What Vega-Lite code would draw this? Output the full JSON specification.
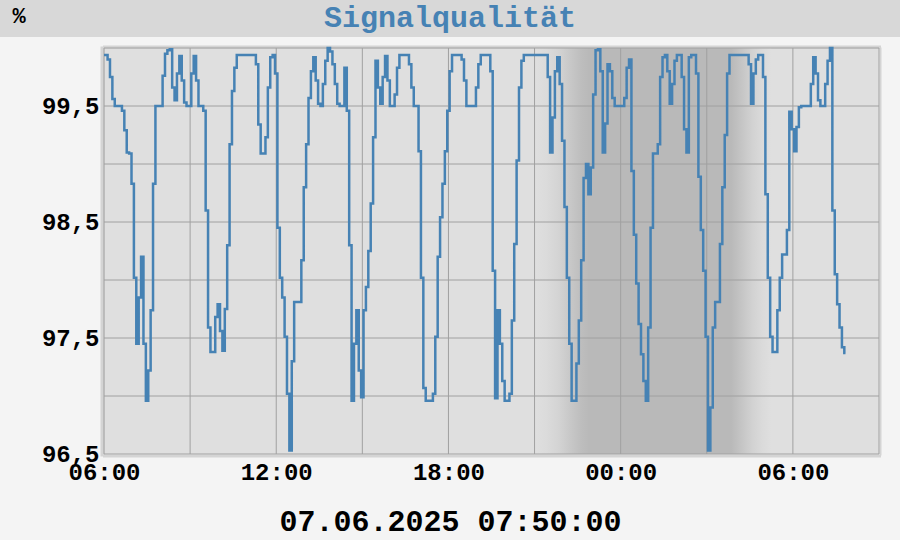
{
  "$schema": "https://vega.github.io/schema/vega-lite/v6.json",
  "background": "#f4f4f4",
  "padding": {"left": 0, "top": 0, "right": 0, "bottom": 6},
  "bounds": "flush",
  "spacing": 11,
  "config": {
    "font": "Liberation Mono",
    "view": {"stroke": null},
    "axis": {"labelFont": "Liberation Mono", "titleFont": "Liberation Mono", "labelColor": "#000000", "titleColor": "#000000"}
  },
  "datasets": {
    "title": [{"label": "Signalqualität"}],
    "night": [{"t": "2025-06-06T21:00", "t2": "2025-06-07T05:15"}],
    "xgrid": [
      {"t": "2025-06-06T06:00"}, {"t": "2025-06-06T09:00"}, {"t": "2025-06-06T12:00"}, {"t": "2025-06-06T15:00"}, {"t": "2025-06-06T18:00"},
      {"t": "2025-06-06T21:00"}, {"t": "2025-06-07T00:00"}, {"t": "2025-06-07T03:00"}, {"t": "2025-06-07T06:00"}, {"t": "2025-06-07T09:00"}
    ],
    "ygrid": [{"v": 96.5}, {"v": 97}, {"v": 97.5}, {"v": 98}, {"v": 98.5}, {"v": 99}, {"v": 99.5}, {"v": 100}],
    "series": [
      {"t":"2025-06-06T06:00","v":99.94},{"t":"2025-06-06T06:05","v":99.94},{"t":"2025-06-06T06:10","v":99.90},{"t":"2025-06-06T06:15","v":99.75},{"t":"2025-06-06T06:20","v":99.56},{"t":"2025-06-06T06:25","v":99.5},{"t":"2025-06-06T06:30","v":99.5},{"t":"2025-06-06T06:35","v":99.5},{"t":"2025-06-06T06:40","v":99.46},{"t":"2025-06-06T06:45","v":99.29},{"t":"2025-06-06T06:50","v":99.1},{"t":"2025-06-06T06:55","v":99.09},
      {"t":"2025-06-06T07:00","v":98.83},{"t":"2025-06-06T07:05","v":98.02},{"t":"2025-06-06T07:10","v":97.45},{"t":"2025-06-06T07:15","v":97.85},{"t":"2025-06-06T07:20","v":98.2},{"t":"2025-06-06T07:25","v":97.45},{"t":"2025-06-06T07:30","v":96.96},{"t":"2025-06-06T07:35","v":97.22},{"t":"2025-06-06T07:40","v":97.74},{"t":"2025-06-06T07:45","v":98.83},{"t":"2025-06-06T07:50","v":99.5},{"t":"2025-06-06T07:55","v":99.5},
      {"t":"2025-06-06T08:00","v":99.5},{"t":"2025-06-06T08:05","v":99.76},{"t":"2025-06-06T08:10","v":99.95},{"t":"2025-06-06T08:15","v":99.98},{"t":"2025-06-06T08:20","v":99.99},{"t":"2025-06-06T08:25","v":99.66},{"t":"2025-06-06T08:30","v":99.55},{"t":"2025-06-06T08:35","v":99.78},{"t":"2025-06-06T08:40","v":99.93},{"t":"2025-06-06T08:45","v":99.72},{"t":"2025-06-06T08:50","v":99.53},{"t":"2025-06-06T08:55","v":99.5},
      {"t":"2025-06-06T09:00","v":99.5},{"t":"2025-06-06T09:05","v":99.78},{"t":"2025-06-06T09:10","v":99.93},{"t":"2025-06-06T09:15","v":99.72},{"t":"2025-06-06T09:20","v":99.5},{"t":"2025-06-06T09:25","v":99.5},{"t":"2025-06-06T09:30","v":99.46},{"t":"2025-06-06T09:35","v":98.6},{"t":"2025-06-06T09:40","v":97.59},{"t":"2025-06-06T09:45","v":97.38},{"t":"2025-06-06T09:50","v":97.38},{"t":"2025-06-06T09:55","v":97.68},
      {"t":"2025-06-06T10:00","v":97.79},{"t":"2025-06-06T10:05","v":97.56},{"t":"2025-06-06T10:10","v":97.39},{"t":"2025-06-06T10:15","v":97.75},{"t":"2025-06-06T10:20","v":98.3},{"t":"2025-06-06T10:25","v":99.17},{"t":"2025-06-06T10:30","v":99.63},{"t":"2025-06-06T10:35","v":99.83},{"t":"2025-06-06T10:40","v":99.94},{"t":"2025-06-06T10:45","v":99.94},{"t":"2025-06-06T10:50","v":99.94},{"t":"2025-06-06T10:55","v":99.94},
      {"t":"2025-06-06T11:00","v":99.94},{"t":"2025-06-06T11:05","v":99.94},{"t":"2025-06-06T11:10","v":99.94},{"t":"2025-06-06T11:15","v":99.94},{"t":"2025-06-06T11:20","v":99.86},{"t":"2025-06-06T11:25","v":99.34},{"t":"2025-06-06T11:30","v":99.09},{"t":"2025-06-06T11:35","v":99.09},{"t":"2025-06-06T11:40","v":99.23},{"t":"2025-06-06T11:45","v":99.66},{"t":"2025-06-06T11:50","v":99.92},{"t":"2025-06-06T11:55","v":99.94},
      {"t":"2025-06-06T12:00","v":99.78},{"t":"2025-06-06T12:05","v":98.45},{"t":"2025-06-06T12:10","v":98.02},{"t":"2025-06-06T12:15","v":97.85},{"t":"2025-06-06T12:20","v":97.51},{"t":"2025-06-06T12:25","v":97.02},{"t":"2025-06-06T12:30","v":96.53},{"t":"2025-06-06T12:35","v":97.3},{"t":"2025-06-06T12:40","v":97.81},{"t":"2025-06-06T12:45","v":97.81},{"t":"2025-06-06T12:50","v":97.81},{"t":"2025-06-06T12:55","v":98.17},
      {"t":"2025-06-06T13:00","v":98.8},{"t":"2025-06-06T13:05","v":99.17},{"t":"2025-06-06T13:10","v":99.57},{"t":"2025-06-06T13:15","v":99.8},{"t":"2025-06-06T13:20","v":99.92},{"t":"2025-06-06T13:25","v":99.72},{"t":"2025-06-06T13:30","v":99.52},{"t":"2025-06-06T13:35","v":99.5},{"t":"2025-06-06T13:40","v":99.69},{"t":"2025-06-06T13:45","v":99.89},{"t":"2025-06-06T13:50","v":100.0},{"t":"2025-06-06T13:55","v":99.97},
      {"t":"2025-06-06T14:00","v":99.86},{"t":"2025-06-06T14:05","v":99.69},{"t":"2025-06-06T14:10","v":99.52},{"t":"2025-06-06T14:15","v":99.5},{"t":"2025-06-06T14:20","v":99.5},{"t":"2025-06-06T14:25","v":99.83},{"t":"2025-06-06T14:30","v":99.46},{"t":"2025-06-06T14:35","v":98.3},{"t":"2025-06-06T14:40","v":96.96},{"t":"2025-06-06T14:45","v":97.45},{"t":"2025-06-06T14:50","v":97.74},{"t":"2025-06-06T14:55","v":97.22},
      {"t":"2025-06-06T15:00","v":96.99},{"t":"2025-06-06T15:05","v":97.74},{"t":"2025-06-06T15:10","v":97.94},{"t":"2025-06-06T15:15","v":98.25},{"t":"2025-06-06T15:20","v":98.66},{"t":"2025-06-06T15:25","v":99.23},{"t":"2025-06-06T15:30","v":99.89},{"t":"2025-06-06T15:35","v":99.66},{"t":"2025-06-06T15:40","v":99.52},{"t":"2025-06-06T15:45","v":99.75},{"t":"2025-06-06T15:50","v":99.93},{"t":"2025-06-06T15:55","v":99.72},
      {"t":"2025-06-06T16:00","v":99.5},{"t":"2025-06-06T16:05","v":99.5},{"t":"2025-06-06T16:10","v":99.6},{"t":"2025-06-06T16:15","v":99.83},{"t":"2025-06-06T16:20","v":99.94},{"t":"2025-06-06T16:25","v":99.94},{"t":"2025-06-06T16:30","v":99.94},{"t":"2025-06-06T16:35","v":99.94},{"t":"2025-06-06T16:40","v":99.86},{"t":"2025-06-06T16:45","v":99.66},{"t":"2025-06-06T16:50","v":99.5},{"t":"2025-06-06T16:55","v":99.5},
      {"t":"2025-06-06T17:00","v":99.11},{"t":"2025-06-06T17:05","v":98.02},{"t":"2025-06-06T17:10","v":97.07},{"t":"2025-06-06T17:15","v":96.96},{"t":"2025-06-06T17:20","v":96.96},{"t":"2025-06-06T17:25","v":96.96},{"t":"2025-06-06T17:30","v":97.02},{"t":"2025-06-06T17:35","v":97.51},{"t":"2025-06-06T17:40","v":98.2},{"t":"2025-06-06T17:45","v":98.54},{"t":"2025-06-06T17:50","v":98.83},{"t":"2025-06-06T17:55","v":99.11},
      {"t":"2025-06-06T18:00","v":99.46},{"t":"2025-06-06T18:05","v":99.8},{"t":"2025-06-06T18:10","v":99.94},{"t":"2025-06-06T18:15","v":99.94},{"t":"2025-06-06T18:20","v":99.94},{"t":"2025-06-06T18:25","v":99.94},{"t":"2025-06-06T18:30","v":99.9},{"t":"2025-06-06T18:35","v":99.72},{"t":"2025-06-06T18:40","v":99.5},{"t":"2025-06-06T18:45","v":99.5},{"t":"2025-06-06T18:50","v":99.5},{"t":"2025-06-06T18:55","v":99.5},
      {"t":"2025-06-06T19:00","v":99.66},{"t":"2025-06-06T19:05","v":99.86},{"t":"2025-06-06T19:10","v":99.94},{"t":"2025-06-06T19:15","v":99.94},{"t":"2025-06-06T19:20","v":99.94},{"t":"2025-06-06T19:25","v":99.94},{"t":"2025-06-06T19:30","v":99.8},{"t":"2025-06-06T19:35","v":98.08},{"t":"2025-06-06T19:40","v":96.98},{"t":"2025-06-06T19:45","v":97.74},{"t":"2025-06-06T19:50","v":97.45},{"t":"2025-06-06T19:55","v":97.13},
      {"t":"2025-06-06T20:00","v":96.96},{"t":"2025-06-06T20:05","v":96.96},{"t":"2025-06-06T20:10","v":97.02},{"t":"2025-06-06T20:15","v":97.65},{"t":"2025-06-06T20:20","v":98.31},{"t":"2025-06-06T20:25","v":99.03},{"t":"2025-06-06T20:30","v":99.66},{"t":"2025-06-06T20:35","v":99.89},{"t":"2025-06-06T20:40","v":99.94},{"t":"2025-06-06T20:45","v":99.94},{"t":"2025-06-06T20:50","v":99.94},{"t":"2025-06-06T20:55","v":99.94},
      {"t":"2025-06-06T21:00","v":99.94},{"t":"2025-06-06T21:05","v":99.94},{"t":"2025-06-06T21:10","v":99.94},{"t":"2025-06-06T21:15","v":99.94},{"t":"2025-06-06T21:20","v":99.94},{"t":"2025-06-06T21:25","v":99.94},{"t":"2025-06-06T21:30","v":99.75},{"t":"2025-06-06T21:35","v":99.1},{"t":"2025-06-06T21:40","v":99.4},{"t":"2025-06-06T21:45","v":99.8},{"t":"2025-06-06T21:50","v":99.92},{"t":"2025-06-06T21:55","v":99.69},
      {"t":"2025-06-06T22:00","v":99.2},{"t":"2025-06-06T22:05","v":98.63},{"t":"2025-06-06T22:10","v":98.02},{"t":"2025-06-06T22:15","v":97.45},{"t":"2025-06-06T22:20","v":96.96},{"t":"2025-06-06T22:25","v":96.96},{"t":"2025-06-06T22:30","v":97.28},{"t":"2025-06-06T22:35","v":97.65},{"t":"2025-06-06T22:40","v":98.17},{"t":"2025-06-06T22:45","v":98.88},{"t":"2025-06-06T22:50","v":99.0},{"t":"2025-06-06T22:55","v":98.74},
      {"t":"2025-06-06T23:00","v":98.97},{"t":"2025-06-06T23:05","v":99.6},{"t":"2025-06-06T23:10","v":99.98},{"t":"2025-06-06T23:15","v":99.99},{"t":"2025-06-06T23:20","v":99.8},{"t":"2025-06-06T23:25","v":99.1},{"t":"2025-06-06T23:30","v":99.35},{"t":"2025-06-06T23:35","v":99.86},{"t":"2025-06-06T23:40","v":99.8},{"t":"2025-06-06T23:45","v":99.57},{"t":"2025-06-06T23:50","v":99.5},{"t":"2025-06-06T23:55","v":99.5},
      {"t":"2025-06-07T00:00","v":99.5},{"t":"2025-06-07T00:05","v":99.5},{"t":"2025-06-07T00:10","v":99.57},{"t":"2025-06-07T00:15","v":99.83},{"t":"2025-06-07T00:20","v":99.9},{"t":"2025-06-07T00:25","v":98.94},{"t":"2025-06-07T00:30","v":98.39},{"t":"2025-06-07T00:35","v":97.97},{"t":"2025-06-07T00:40","v":97.62},{"t":"2025-06-07T00:45","v":97.36},{"t":"2025-06-07T00:50","v":97.13},{"t":"2025-06-07T00:55","v":96.96},
      {"t":"2025-06-07T01:00","v":97.59},{"t":"2025-06-07T01:05","v":98.45},{"t":"2025-06-07T01:10","v":99.09},{"t":"2025-06-07T01:15","v":99.09},{"t":"2025-06-07T01:20","v":99.17},{"t":"2025-06-07T01:25","v":99.75},{"t":"2025-06-07T01:30","v":99.92},{"t":"2025-06-07T01:35","v":99.94},{"t":"2025-06-07T01:40","v":99.8},{"t":"2025-06-07T01:45","v":99.52},{"t":"2025-06-07T01:50","v":99.69},{"t":"2025-06-07T01:55","v":99.89},
      {"t":"2025-06-07T02:00","v":99.94},{"t":"2025-06-07T02:05","v":99.94},{"t":"2025-06-07T02:10","v":99.75},{"t":"2025-06-07T02:15","v":99.3},{"t":"2025-06-07T02:20","v":99.1},{"t":"2025-06-07T02:25","v":99.92},{"t":"2025-06-07T02:30","v":99.94},{"t":"2025-06-07T02:35","v":99.94},{"t":"2025-06-07T02:40","v":99.78},{"t":"2025-06-07T02:45","v":98.89},{"t":"2025-06-07T02:50","v":98.43},{"t":"2025-06-07T02:55","v":98.08},
      {"t":"2025-06-07T03:00","v":97.51},{"t":"2025-06-07T03:05","v":96.53},{"t":"2025-06-07T03:10","v":96.9},{"t":"2025-06-07T03:15","v":97.59},{"t":"2025-06-07T03:20","v":97.81},{"t":"2025-06-07T03:25","v":97.81},{"t":"2025-06-07T03:30","v":98.31},{"t":"2025-06-07T03:35","v":98.8},{"t":"2025-06-07T03:40","v":99.25},{"t":"2025-06-07T03:45","v":99.78},{"t":"2025-06-07T03:50","v":99.94},{"t":"2025-06-07T03:55","v":99.94},
      {"t":"2025-06-07T04:00","v":99.94},{"t":"2025-06-07T04:05","v":99.94},{"t":"2025-06-07T04:10","v":99.94},{"t":"2025-06-07T04:15","v":99.94},{"t":"2025-06-07T04:20","v":99.94},{"t":"2025-06-07T04:25","v":99.94},{"t":"2025-06-07T04:30","v":99.86},{"t":"2025-06-07T04:35","v":99.52},{"t":"2025-06-07T04:40","v":99.78},{"t":"2025-06-07T04:45","v":99.9},{"t":"2025-06-07T04:50","v":99.94},{"t":"2025-06-07T04:55","v":99.94},
      {"t":"2025-06-07T05:00","v":99.75},{"t":"2025-06-07T05:05","v":98.74},{"t":"2025-06-07T05:10","v":98.02},{"t":"2025-06-07T05:15","v":97.51},{"t":"2025-06-07T05:20","v":97.38},{"t":"2025-06-07T05:25","v":97.38},{"t":"2025-06-07T05:30","v":97.74},{"t":"2025-06-07T05:35","v":98.02},{"t":"2025-06-07T05:40","v":98.22},{"t":"2025-06-07T05:45","v":98.22},{"t":"2025-06-07T05:50","v":98.43},{"t":"2025-06-07T05:55","v":99.45},
      {"t":"2025-06-07T06:00","v":99.3},{"t":"2025-06-07T06:05","v":99.11},{"t":"2025-06-07T06:10","v":99.32},{"t":"2025-06-07T06:15","v":99.49},{"t":"2025-06-07T06:20","v":99.5},{"t":"2025-06-07T06:25","v":99.5},{"t":"2025-06-07T06:30","v":99.5},{"t":"2025-06-07T06:35","v":99.5},{"t":"2025-06-07T06:40","v":99.69},{"t":"2025-06-07T06:45","v":99.92},{"t":"2025-06-07T06:50","v":99.78},{"t":"2025-06-07T06:55","v":99.55},
      {"t":"2025-06-07T07:00","v":99.5},{"t":"2025-06-07T07:05","v":99.5},{"t":"2025-06-07T07:10","v":99.69},{"t":"2025-06-07T07:15","v":99.89},{"t":"2025-06-07T07:20","v":100.0},{"t":"2025-06-07T07:25","v":98.6},{"t":"2025-06-07T07:30","v":98.05},{"t":"2025-06-07T07:35","v":97.79},{"t":"2025-06-07T07:40","v":97.59},{"t":"2025-06-07T07:45","v":97.42},{"t":"2025-06-07T07:50","v":97.37}
    ]
  },
  "vconcat": [
    {
      "width": 900,
      "height": 37,
      "view": {"fill": "#d8d8d8", "stroke": null},
      "data": {"name": "title"},
      "mark": {"type": "text", "font": "Liberation Mono", "fontSize": 30, "fontWeight": "bold", "color": "#4682b4", "baseline": "middle", "align": "center", "dy": -1},
      "encoding": {"text": {"field": "label", "type": "nominal"}}
    },
    {
      "bounds": "flush",
      "spacing": 0,
      "hconcat": [
        {
          "width": 104,
          "height": 406,
          "view": {"stroke": null},
          "data": {"values": [{"e": ""}]},
          "mark": {"type": "text"},
          "encoding": {"text": {"field": "e", "type": "nominal"}}
        },
        {
          "width": 775,
          "height": 406,
          "view": {"fill": "#dfdfdf", "stroke": null},
          "resolve": {"axis": {"x": "independent", "y": "independent"}},
          "layer": [
            {
              "data": {"name": "night"},
              "mark": {
                "type": "rect",
                "stroke": null,
                "fill": {
                  "gradient": "linear", "x1": 0, "y1": 0, "x2": 1, "y2": 0,
                  "stops": [
                    {"offset": 0, "color": "#dfdfdf"},
                    {"offset": 0.05, "color": "#dbdbdb"},
                    {"offset": 0.1, "color": "#d4d4d4"},
                    {"offset": 0.15, "color": "#c8c8c8"},
                    {"offset": 0.2, "color": "#bdbdbd"},
                    {"offset": 0.23, "color": "#b9b9b9"},
                    {"offset": 0.83, "color": "#b9b9b9"},
                    {"offset": 0.87, "color": "#c4c4c4"},
                    {"offset": 0.92, "color": "#d2d2d2"},
                    {"offset": 0.96, "color": "#dadada"},
                    {"offset": 1, "color": "#dfdfdf"}
                  ]
                }
              },
              "encoding": {
                "x": {
                  "field": "t", "type": "temporal",
                  "scale": {"domain": [{"year": 2025, "month": 6, "date": 6, "hours": 6}, {"year": 2025, "month": 6, "date": 7, "hours": 9}], "nice": false},
                  "axis": {"orient": "top", "labels": false, "ticks": false, "grid": false, "title": null, "domain": true, "domainColor": "#d4d4d4", "domainWidth": 3, "domainCap": "square", "offset": 1.5}
                },
                "x2": {"field": "t2"}
              }
            },
            {
              "data": {"name": "xgrid"},
              "mark": {"type": "rule", "color": "#a0a0a0", "strokeWidth": 1},
              "encoding": {
                "x": {
                  "field": "t", "type": "temporal",
                  "scale": {"domain": [{"year": 2025, "month": 6, "date": 6, "hours": 6}, {"year": 2025, "month": 6, "date": 7, "hours": 9}], "nice": false},
                  "axis": null
                }
              }
            },
            {
              "data": {"name": "ygrid"},
              "mark": {"type": "rule", "color": "#a0a0a0", "strokeWidth": 1},
              "encoding": {
                "y": {
                  "field": "v", "type": "quantitative",
                  "scale": {"domain": [96.5, 100], "nice": false, "zero": false},
                  "axis": {"orient": "right", "labels": false, "ticks": false, "grid": false, "title": null, "domain": true, "domainColor": "#d4d4d4", "domainWidth": 2, "domainCap": "square", "offset": 1}
                }
              }
            },
            {
              "data": {"name": "series"},
              "mark": {"type": "line", "interpolate": "step", "color": "#4682b4", "strokeWidth": 2.5},
              "encoding": {
                "x": {
                  "field": "t", "type": "temporal",
                  "scale": {"domain": [{"year": 2025, "month": 6, "date": 6, "hours": 6}, {"year": 2025, "month": 6, "date": 7, "hours": 9}], "nice": false},
                  "axis": {
                    "orient": "bottom",
                    "values": [
                      {"year": 2025, "month": 6, "date": 6, "hours": 6},
                      {"year": 2025, "month": 6, "date": 6, "hours": 12},
                      {"year": 2025, "month": 6, "date": 6, "hours": 18},
                      {"year": 2025, "month": 6, "date": 7, "hours": 0},
                      {"year": 2025, "month": 6, "date": 7, "hours": 6}
                    ],
                    "format": "%H:%M",
                    "grid": false, "ticks": false, "tickSize": 0,
                    "domain": true, "domainColor": "#d4d4d4", "domainWidth": 3, "domainCap": "square", "offset": 1.5,
                    "labelPadding": 5, "labelFontSize": 24, "labelFontWeight": "bold", "labelFlush": false, "labelOverlap": false,
                    "title": "07.06.2025 07:50:00", "titleFontSize": 30, "titleFontWeight": "bold",
                    "titleX": 346, "titleY": 75, "titleAlign": "center", "titleBaseline": "alphabetic", "titleAnchor": "start"
                  }
                },
                "y": {
                  "field": "v", "type": "quantitative",
                  "scale": {"domain": [96.5, 100], "nice": false, "zero": false},
                  "axis": {
                    "orient": "left",
                    "values": [96.5, 97.5, 98.5, 99.5],
                    "labelExpr": "replace(format(datum.value, '.1f'), '.', ',')",
                    "grid": false, "ticks": false, "tickSize": 0,
                    "domain": true, "domainColor": "#d4d4d4", "domainWidth": 4, "domainCap": "square", "offset": 2,
                    "labelPadding": 3, "labelFontSize": 24, "labelFontWeight": "bold", "labelFlush": false, "labelOverlap": false,
                    "title": "%", "titleAngle": 0, "titleAlign": "left", "titleBaseline": "middle",
                    "titleX": -90, "titleY": -33, "titleFontSize": 22, "titleFontWeight": "bold"
                  }
                }
              }
            }
          ]
        }
      ]
    }
  ]
}
